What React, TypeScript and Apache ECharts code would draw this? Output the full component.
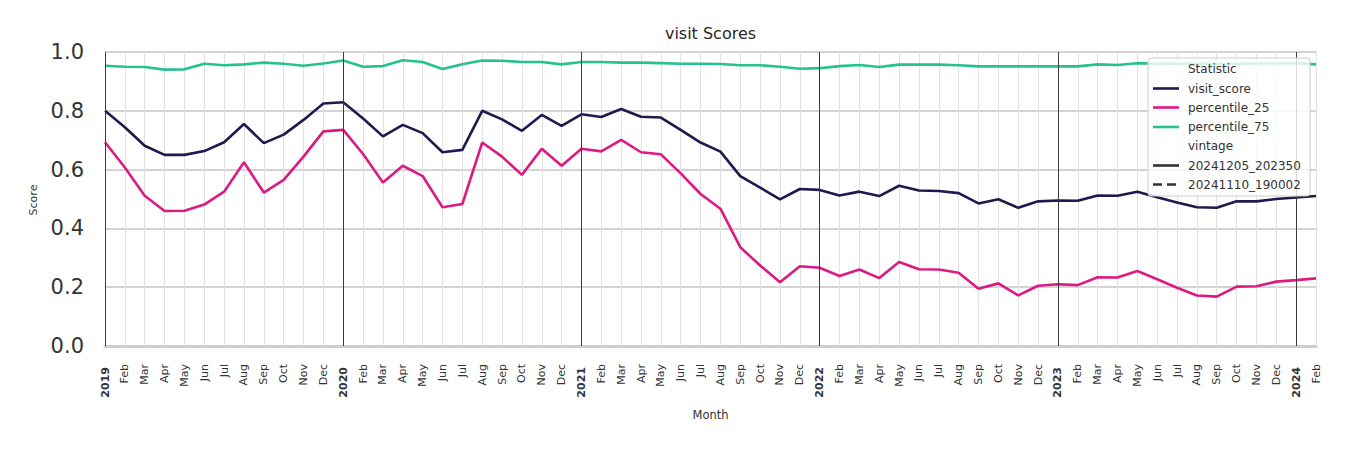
import React, { useEffect, useRef } from "react";
import * as echarts from "echarts";

const months: string[] = [
  "2019", "Feb", "Mar", "Apr", "May", "Jun", "Jul", "Aug", "Sep", "Oct", "Nov", "Dec",
  "2020", "Feb", "Mar", "Apr", "May", "Jun", "Jul", "Aug", "Sep", "Oct", "Nov", "Dec",
  "2021", "Feb", "Mar", "Apr", "May", "Jun", "Jul", "Aug", "Sep", "Oct", "Nov", "Dec",
  "2022", "Feb", "Mar", "Apr", "May", "Jun", "Jul", "Aug", "Sep", "Oct", "Nov", "Dec",
  "2023", "Feb", "Mar", "Apr", "May", "Jun", "Jul", "Aug", "Sep", "Oct", "Nov", "Dec",
  "2024", "Feb",
];
const categories: string[] = months.map((m, i) => `${i}:${m}`);

const visitScore: number[] = [
  0.800, 0.744, 0.681, 0.650, 0.650, 0.663, 0.693, 0.755, 0.690, 0.719, 0.769, 0.825,
  0.829, 0.774, 0.713, 0.752, 0.724, 0.659, 0.667, 0.800, 0.771, 0.732, 0.786, 0.749,
  0.788, 0.779, 0.806, 0.780, 0.777, 0.735, 0.692, 0.661, 0.578, 0.539, 0.499, 0.534,
  0.531, 0.512, 0.525, 0.510, 0.545, 0.529, 0.527, 0.520, 0.485, 0.499, 0.470, 0.492,
  0.495, 0.494, 0.512, 0.511, 0.525, 0.506, 0.488, 0.472, 0.470, 0.492, 0.492, 0.500,
  0.505, 0.510,
];
const percentile25: number[] = [
  0.693, 0.607, 0.511, 0.459, 0.460, 0.481, 0.525, 0.625, 0.522, 0.565, 0.644, 0.730,
  0.735, 0.653, 0.556, 0.613, 0.578, 0.472, 0.483, 0.692, 0.644, 0.582, 0.671, 0.613,
  0.671, 0.662, 0.701, 0.659, 0.652, 0.587, 0.517, 0.467, 0.336, 0.274, 0.217, 0.271,
  0.266, 0.238, 0.260, 0.231, 0.286, 0.261, 0.260, 0.249, 0.195, 0.213, 0.172, 0.205,
  0.210, 0.207, 0.234, 0.233, 0.255, 0.227, 0.198, 0.172, 0.168, 0.202, 0.203, 0.219,
  0.224, 0.230,
];
const percentile75: number[] = [
  0.953, 0.950, 0.949, 0.940, 0.941, 0.960, 0.955, 0.958, 0.964, 0.960, 0.953, 0.961,
  0.971, 0.950, 0.952, 0.972, 0.966, 0.942, 0.958, 0.971, 0.970, 0.966, 0.966, 0.958,
  0.966, 0.966, 0.964, 0.964, 0.962, 0.960, 0.960, 0.959, 0.955, 0.955, 0.950, 0.943,
  0.945, 0.952, 0.956, 0.949, 0.957, 0.957, 0.957, 0.955, 0.951, 0.951, 0.951, 0.951,
  0.951, 0.951, 0.958, 0.956, 0.962, 0.960, 0.960, 0.960, 0.960, 0.960, 0.961, 0.961,
  0.962, 0.958,
];
const yearIndices: number[] = [0, 12, 24, 36, 48, 60];

const statNames: string[] = ["visit_score", "percentile_25", "percentile_75"];
const statColors: string[] = ["#1c1b4e", "#dc1a82", "#25c28e"];
const vintageNames: string[] = ["20241205_202350", "20241110_190002"];

const FONT = "DejaVu Sans";

export default function App() {
  const ref = useRef<HTMLDivElement>(null);
  useEffect(() => {
    if (!ref.current) return;
    const chart = echarts.init(ref.current, null, { renderer: "svg" });
    const seriesData = [visitScore, percentile25, percentile75];

    const lx = 1148, ly = 58, lw = 162, lh = 138;
    const rowY = [69, 88.5, 107.5, 127, 146, 165.5, 184.5];
    const Z = 100;
    const legendChildren: any[] = [
      {
        type: "rect",
        z: Z,
        shape: { x: lx, y: ly, width: lw, height: lh, r: 3 },
        style: { fill: "rgba(255,255,255,0.8)", stroke: "#cccccc", lineWidth: 1 },
      },
      {
        type: "text",
        z: Z + 1,
        x: 1188, y: rowY[0],
        style: { text: "Statistic", font: `12px '${FONT}'`, fill: "#333333", textVerticalAlign: "middle" },
      },
    ];
    statNames.forEach((n, i) => {
      legendChildren.push({
        type: "line",
        z: Z + 1,
        shape: { x1: 1153, y1: rowY[i + 1], x2: 1179, y2: rowY[i + 1] },
        style: { stroke: statColors[i], lineWidth: 2.6 },
      });
      legendChildren.push({
        type: "text",
        z: Z + 1,
        x: 1188, y: rowY[i + 1],
        style: { text: n, font: `12px '${FONT}'`, fill: "#333333", textVerticalAlign: "middle" },
      });
    });
    legendChildren.push({
      type: "text",
      z: Z + 1,
      x: 1188, y: rowY[4],
      style: { text: "vintage", font: `12px '${FONT}'`, fill: "#333333", textVerticalAlign: "middle" },
    });
    vintageNames.forEach((n, i) => {
      legendChildren.push({
        type: "line",
        z: Z + 1,
        shape: { x1: 1153, y1: rowY[5 + i], x2: 1179, y2: rowY[5 + i] },
        style: { stroke: "#333333", lineWidth: 2.6, lineDash: i === 1 ? [9, 5] : null },
      });
      legendChildren.push({
        type: "text",
        z: Z + 1,
        x: 1188, y: rowY[5 + i],
        style: { text: n, font: `12px '${FONT}'`, fill: "#333333", textVerticalAlign: "middle" },
      });
    });

    const option: any = {
      animation: false,
      backgroundColor: "#ffffff",
      textStyle: { fontFamily: FONT },
      grid: {
        left: 105, right: 34, top: 52, bottom: 104,
        containLabel: false, outerBoundsMode: "none",
      },
      xAxis: {
        type: "category",
        data: categories,
        boundaryGap: false,
        axisLine: { show: true, onZero: false, lineStyle: { color: "#cfcfcf", width: 3 } },
        axisTick: { show: false },
        splitLine: { show: true, interval: 0, lineStyle: { color: "#e2e2e2", width: 1 } },
        axisLabel: {
          interval: 0,
          rotate: 90,
          margin: 18,
          fontFamily: FONT,
          fontSize: 11,
          color: "#333333",
          formatter: (v: string) => {
            const lab = v.split(":")[1];
            return /^\d{4}$/.test(lab) ? `{y|${lab}}` : `{m|${lab}}`;
          },
          rich: {
            y: { fontFamily: FONT, fontSize: 11, fontWeight: "bold", color: "#333333", padding: [0, 3, 0, 0] },
            m: { fontFamily: FONT, fontSize: 11, color: "#333333" },
          },
        },
      },
      yAxis: {
        type: "value",
        min: 0,
        max: 1,
        interval: 0.2,
        axisLine: { show: false },
        axisTick: { show: false },
        splitLine: { show: true, lineStyle: { color: "#c6c6c6", width: 1.6 } },
        axisLabel: {
          fontFamily: FONT,
          fontSize: 21,
          color: "#333333",
          margin: 21,
          formatter: (v: number) => v.toFixed(1),
        },
      },
      series: [
        {
          type: "line",
          name: "years",
          data: [],
          z: 1,
          silent: true,
          markLine: {
            silent: true,
            symbol: ["none", "none"],
            label: { show: false },
            lineStyle: { color: "#3c3c3c", width: 1, type: "solid" },
            data: yearIndices.map((i) => ({ xAxis: categories[i] })),
          },
        },
        ...statNames.map((n, i) => ({
          type: "line",
          name: n,
          data: seriesData[i],
          z: 3,
          symbol: "none",
          lineStyle: { color: statColors[i], width: 2.6 },
          itemStyle: { color: statColors[i] },
        })),
      ],
      graphic: [
        {
          type: "text",
          x: 710.5, y: 33,
          style: { text: "visit Scores", font: `16px '${FONT}'`, fill: "#262626", textAlign: "center", textVerticalAlign: "middle" },
        },
        {
          type: "text",
          x: 710.5, y: 415,
          style: { text: "Month", font: `11.5px '${FONT}'`, fill: "#333333", textAlign: "center", textVerticalAlign: "middle" },
        },
        {
          type: "text",
          x: 33, y: 200,
          rotation: Math.PI / 2,
          style: { text: "Score", font: `11px '${FONT}'`, fill: "#333333", textAlign: "center", textVerticalAlign: "middle" },
        },
        ...legendChildren,
      ],
    };
    chart.setOption(option);
    return () => chart.dispose();
  }, []);
  return (
    <div
      ref={ref}
      style={{ position: "absolute", left: 0, top: 0, width: 1350, height: 450 }}
    />
  );
}
